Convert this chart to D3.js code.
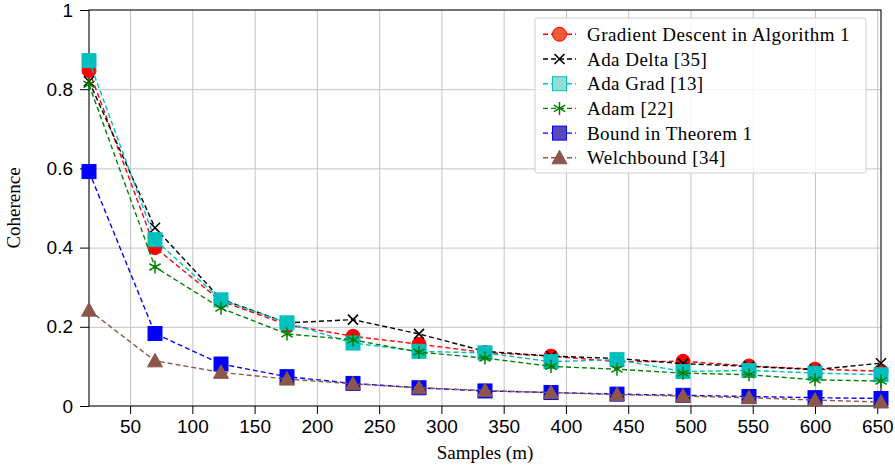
<!DOCTYPE html>
<html>
<head>
<meta charset="utf-8">
<script src="https://cdn.jsdelivr.net/npm/d3@7.9.0/dist/d3.min.js"></script>
<style>
  html, body { margin: 0; padding: 0; background: #fff; }
  svg { display: block; font-family: "Liberation Serif", "DejaVu Serif", serif; }
  .grid line { stroke: #c4c4c4; stroke-width: 1; }
  .grid .domain { display: none; }
  .axis text { font-size: 19px; fill: #000; }
  .axis line, .axis path { stroke: #000; }
</style>
</head>
<body>
<div id="chart"></div>
<script>
const samples = [17, 70, 123, 176, 229, 282, 335, 388, 441, 494, 547, 600, 653];
const gradientDescent = [0.847, 0.40, 0.265, 0.205, 0.176, 0.156, 0.135, 0.126, 0.112, 0.113, 0.101, 0.093, 0.088];
const adaDelta = [0.82, 0.45, 0.27, 0.21, 0.218, 0.182, 0.138, 0.126, 0.12, 0.107, 0.1, 0.092, 0.108];
const adaGrad = [0.872, 0.42, 0.268, 0.21, 0.159, 0.138, 0.134, 0.112, 0.117, 0.087, 0.09, 0.083, 0.079];
const adam = [0.812, 0.351, 0.247, 0.182, 0.167, 0.136, 0.121, 0.1, 0.093, 0.083, 0.079, 0.066, 0.063];
const boundTheorem = [0.592, 0.183, 0.106, 0.074, 0.057, 0.046, 0.038, 0.034, 0.030, 0.027, 0.024, 0.021, 0.019];
const welchBound = [0.242, 0.114, 0.085, 0.068, 0.056, 0.046, 0.039, 0.034, 0.029, 0.025, 0.021, 0.015, 0.010];

const xTicks = [50, 100, 150, 200, 250, 300, 350, 400, 450, 500, 550, 600, 650];
const yTicks = [0, 0.2, 0.4, 0.6, 0.8, 1];

const series = [
  { name: 'Gradient Descent in Algorithm 1', values: gradientDescent, color: '#ff0000', marker: 'circle', legendFill: '#ef5a3a' },
  { name: 'Ada Delta [35]', values: adaDelta, color: '#000000', marker: 'x' },
  { name: 'Ada Grad [13]', values: adaGrad, color: '#00bfbf', marker: 'square', legendFill: '#93ddd6' },
  { name: 'Adam [22]', values: adam, color: '#008000', marker: 'asterisk' },
  { name: 'Bound in Theorem 1', values: boundTheorem, color: '#0000ff', marker: 'square', legendFill: '#5a48b8' },
  { name: 'Welchbound [34]', values: welchBound, color: '#8c564b', marker: 'triangle' }
];

const width = 895, height = 468;
const margin = { top: 10, right: 14, bottom: 62, left: 89 };
const plot = {
  left: margin.left,
  top: margin.top,
  right: width - margin.right,
  bottom: height - margin.bottom
};

const svg = d3.select('#chart')
  .append('svg')
  .attr('width', width)
  .attr('height', height);

const x = d3.scaleLinear().domain([17, 653]).range([plot.left, plot.right]);
const y = d3.scaleLinear().domain([0, 1]).range([plot.bottom, plot.top]);

// grid
svg.append('g')
  .attr('class', 'grid')
  .attr('transform', `translate(0,${plot.bottom})`)
  .call(d3.axisBottom(x).tickValues(xTicks).tickFormat('').tickSize(-(plot.bottom - plot.top)));
svg.append('g')
  .attr('class', 'grid')
  .attr('transform', `translate(${plot.left},0)`)
  .call(d3.axisLeft(y).tickValues(yTicks.slice(1, -1)).tickFormat('').tickSize(-(plot.right - plot.left)));

// axes
const xAxis = svg.append('g')
  .attr('class', 'axis')
  .attr('transform', `translate(0,${plot.bottom})`)
  .call(d3.axisBottom(x).tickValues(xTicks).tickSizeOuter(0).tickSize(8).tickPadding(6));
xAxis.select('.domain').remove();

const yAxis = svg.append('g')
  .attr('class', 'axis')
  .attr('transform', `translate(${plot.left},0)`)
  .call(d3.axisLeft(y).tickValues(yTicks).tickSizeOuter(0).tickSize(9).tickPadding(7)
    .tickFormat(d => d === 0 ? '0' : d === 1 ? '1' : d3.format('.1f')(d)));
yAxis.select('.domain').remove();

// frame
svg.append('rect')
  .attr('x', plot.left).attr('y', plot.top)
  .attr('width', plot.right - plot.left).attr('height', plot.bottom - plot.top)
  .attr('fill', 'none').attr('stroke', '#000').attr('stroke-width', 1.1);

// axis labels
svg.append('text')
  .attr('x', (plot.left + plot.right) / 2)
  .attr('y', 459)
  .attr('text-anchor', 'middle')
  .style('font-size', '19px')
  .text('Samples (m)');

svg.append('text')
  .attr('transform', `translate(20,${(plot.top + plot.bottom) / 2}) rotate(-90)`)
  .attr('text-anchor', 'middle')
  .style('font-size', '19px')
  .text('Coherence');

function drawMarker(g, type, color, fill, cx, cy) {
  if (type === 'circle') {
    g.append('circle').attr('cx', cx).attr('cy', cy).attr('r', 7)
      .attr('fill', fill).attr('stroke', color).attr('stroke-width', 1);
  } else if (type === 'square') {
    g.append('rect').attr('x', cx - 7).attr('y', cy - 7).attr('width', 14).attr('height', 14)
      .attr('fill', fill).attr('stroke', color).attr('stroke-width', 1);
  } else if (type === 'triangle') {
    const r = 7.5;
    g.append('path')
      .attr('d', `M${cx},${cy - r}L${cx - r},${cy + r * 0.8}L${cx + r},${cy + r * 0.8}Z`)
      .attr('fill', fill).attr('stroke', color).attr('stroke-width', 1);
  } else if (type === 'x') {
    const r = 5;
    g.append('path')
      .attr('d', `M${cx - r},${cy - r}L${cx + r},${cy + r}M${cx - r},${cy + r}L${cx + r},${cy - r}`)
      .attr('stroke', color).attr('stroke-width', 1.6).attr('fill', 'none');
  } else if (type === 'asterisk') {
    const r = 6.5;
    const a = Math.cos(Math.PI / 6) * r, b = Math.sin(Math.PI / 6) * r;
    g.append('path')
      .attr('d', `M${cx},${cy - r}L${cx},${cy + r}M${cx - a},${cy - b}L${cx + a},${cy + b}M${cx - a},${cy + b}L${cx + a},${cy - b}`)
      .attr('stroke', color).attr('stroke-width', 1.5).attr('fill', 'none');
  }
}

const line = d3.line().x(d => x(d[0])).y(d => y(d[1]));

series.forEach(s => {
  const pts = samples.map((m, i) => [m, s.values[i]]);
  const g = svg.append('g');
  g.append('path')
    .datum(pts)
    .attr('d', line)
    .attr('fill', 'none')
    .attr('stroke', s.color)
    .attr('stroke-width', 1.4)
    .attr('stroke-dasharray', '5,3');
  pts.forEach(p => drawMarker(g, s.marker, s.color, s.color, x(p[0]), y(p[1])));
});

// legend
const legend = svg.append('g');
legend.append('rect')
  .attr('x', 535).attr('y', 18).attr('width', 331).attr('height', 155)
  .attr('rx', 2)
  .attr('fill', '#ffffff').attr('fill-opacity', 0.82)
  .attr('stroke', '#d0d0d0').attr('stroke-width', 1);

series.forEach((s, i) => {
  const cy = 34.3 + i * 24.7;
  const row = legend.append('g');
  row.append('line')
    .attr('x1', 543).attr('x2', 576).attr('y1', cy).attr('y2', cy)
    .attr('stroke', s.color).attr('stroke-width', 1.4).attr('stroke-dasharray', '5,3');
  drawMarker(row, s.marker, s.color, s.legendFill || s.color, 559.5, cy);
  row.append('text')
    .attr('x', 587).attr('y', cy + 6.5)
    .style('font-size', '19px')
    .style('letter-spacing', '0.45px')
    .text(s.name);
});
</script>
</body>
</html>
